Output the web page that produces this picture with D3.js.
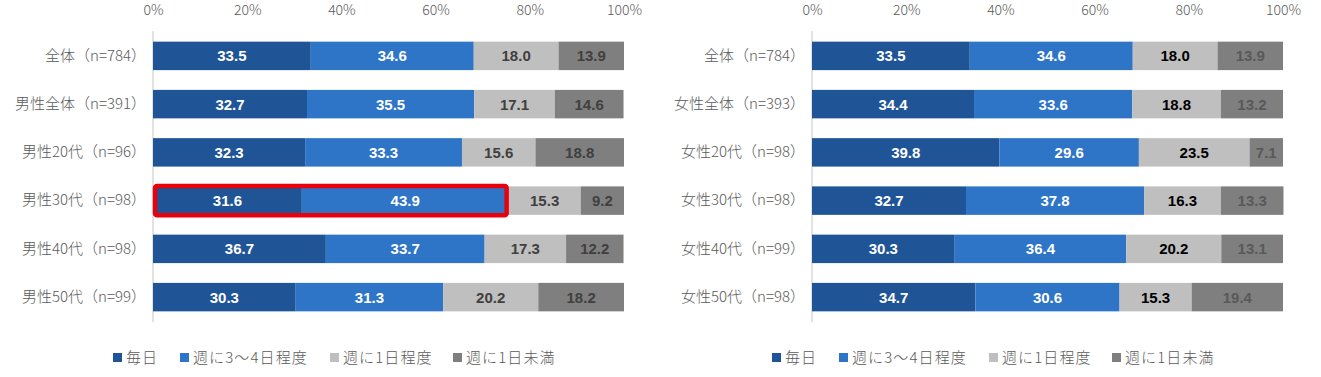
<!DOCTYPE html>
<html>
<head>
<meta charset="utf-8">
<script src="https://cdn.jsdelivr.net/npm/d3@7"></script>
<style>
  body { margin: 0; background: #fff; }
  svg text { font-family: "Noto Sans CJK JP", "Noto Sans", sans-serif; }
  .axis path, .axis line { display: none; }
  .val { font-family: "Liberation Sans", "Roboto", sans-serif !important; font-weight: bold; font-size: 15px; }
</style>
</head>
<body>
<div id="chart-area"></div>
<script>
// series names and colours
let seriesNames = ["毎日", "週に3～4日程度", "週に1日程度", "週に1日未満"];
let seriesColors = ["#1f5597", "#2e75c8", "#bfbfbf", "#7f7f7f"];

// left panel (men)
let menCats = ["全体（n=784）", "男性全体（n=391）", "男性20代（n=96）", "男性30代（n=98）", "男性40代（n=98）", "男性50代（n=99）"];
let menDaily  = [33.5, 32.7, 32.3, 31.6, 36.7, 30.3];
let menWeek34 = [34.6, 35.5, 33.3, 43.9, 33.7, 31.3];
let menWeek1  = [18.0, 17.1, 15.6, 15.3, 17.3, 20.2];
let menLess   = [13.9, 14.6, 18.8, 9.2, 12.2, 18.2];

// right panel (women)
let womenCats = ["全体（n=784）", "女性全体（n=393）", "女性20代（n=98）", "女性30代（n=98）", "女性40代（n=99）", "女性50代（n=98）"];
let womenDaily  = [33.5, 34.4, 39.8, 32.7, 30.3, 34.7];
let womenWeek34 = [34.6, 33.6, 29.6, 37.8, 36.4, 30.6];
let womenWeek1  = [18.0, 18.8, 23.5, 16.3, 20.2, 15.3];
let womenLess   = [13.9, 13.2, 7.1, 13.3, 13.1, 19.4];

let tickValues = [0, 20, 40, 60, 80, 100];

let svg = d3.select("#chart-area").append("svg")
    .attr("width", 1321)
    .attr("height", 377);

function buildRows(cats, a, b, c, d) {
    return cats.map((cat, i) => ({cat: cat, vals: [a[i], b[i], c[i], d[i]]}));
}

function drawPanel(rows, left, labelColors, highlightRow) {
    let x = d3.scaleLinear().domain([0, 100]).range([left, left + 471]);
    let y = d3.scaleBand().domain(rows.map(r => r.cat)).range([32, 321]).paddingInner(0.41).paddingOuter(0.2);

    // top axis labels
    svg.append("g")
        .attr("class", "axis")
        .attr("transform", "translate(0,10)")
        .call(d3.axisTop(x).tickValues(tickValues).tickFormat(d => d + "%").tickSize(0).tickPadding(0))
        .selectAll("text")
        .attr("dy", "0.35em")
        .style("font-size", "14px")
        .style("font-family", "'Noto Sans CJK JP', sans-serif")
        .style("font-weight", "300")
        .attr("fill", "#595959");

    // vertical axis line
    svg.append("line")
        .attr("x1", x(0)).attr("x2", x(0))
        .attr("y1", 31).attr("y2", 322)
        .attr("stroke", "#d9d9d9").attr("stroke-width", 1.5);

    // category labels
    let yAxis = svg.append("g")
        .attr("class", "axis")
        .attr("transform", "translate(" + (x(0) - 7) + ",0)")
        .call(d3.axisLeft(y).tickSize(0).tickPadding(0));
    yAxis.selectAll("text")
        .style("font-size", "15px")
        .style("font-weight", "300")
        .attr("fill", "#595959");

    rows.forEach(r => {
        let acc = 0;
        r.vals.forEach((v, k) => {
            let x0 = acc;
            acc += v;
            svg.append("rect")
                .attr("x", x(x0))
                .attr("y", y(r.cat))
                .attr("width", x(acc) - x(x0))
                .attr("height", y.bandwidth())
                .attr("fill", seriesColors[k]);
            svg.append("text")
                .attr("class", "val")
                .attr("x", (x(x0) + x(acc)) / 2)
                .attr("y", y(r.cat) + y.bandwidth() / 2)
                .attr("dy", "0.36em")
                .attr("text-anchor", "middle")
                .attr("fill", labelColors[k])
                .text(v.toFixed(1));
        });
    });

    if (highlightRow != null) {
        let r = rows[highlightRow];
        svg.append("rect")
            .attr("x", x(0) + 2)
            .attr("y", y(r.cat) - 0.5)
            .attr("width", x(r.vals[0] + r.vals[1]) - x(0) - 4)
            .attr("height", y.bandwidth() + 1)
            .attr("fill", "none")
            .attr("stroke", "#e8000b")
            .attr("stroke-width", 4.5)
            .attr("rx", 2);
    }

    // legend
    let lx = [left - 40, left + 27, left + 177, left + 300];
    seriesNames.forEach((name, k) => {
        svg.append("rect")
            .attr("x", lx[k]).attr("y", 353)
            .attr("width", 9).attr("height", 9)
            .attr("fill", seriesColors[k]);
        svg.append("text")
            .attr("x", lx[k] + 13).attr("y", 357.5)
            .attr("dy", "0.36em")
            .style("font-size", "15px")
            .style("letter-spacing", "1.1px")
            .style("font-weight", "300")
            .attr("fill", "#595959")
            .text(name);
    });
}

drawPanel(buildRows(menCats, menDaily, menWeek34, menWeek1, menLess), 153,
    ["#ffffff", "#ffffff", "#404040", "#404040"], 3);
drawPanel(buildRows(womenCats, womenDaily, womenWeek34, womenWeek1, womenLess), 812,
    ["#ffffff", "#ffffff", "#000000", "#595959"], null);
</script>
</body>
</html>
